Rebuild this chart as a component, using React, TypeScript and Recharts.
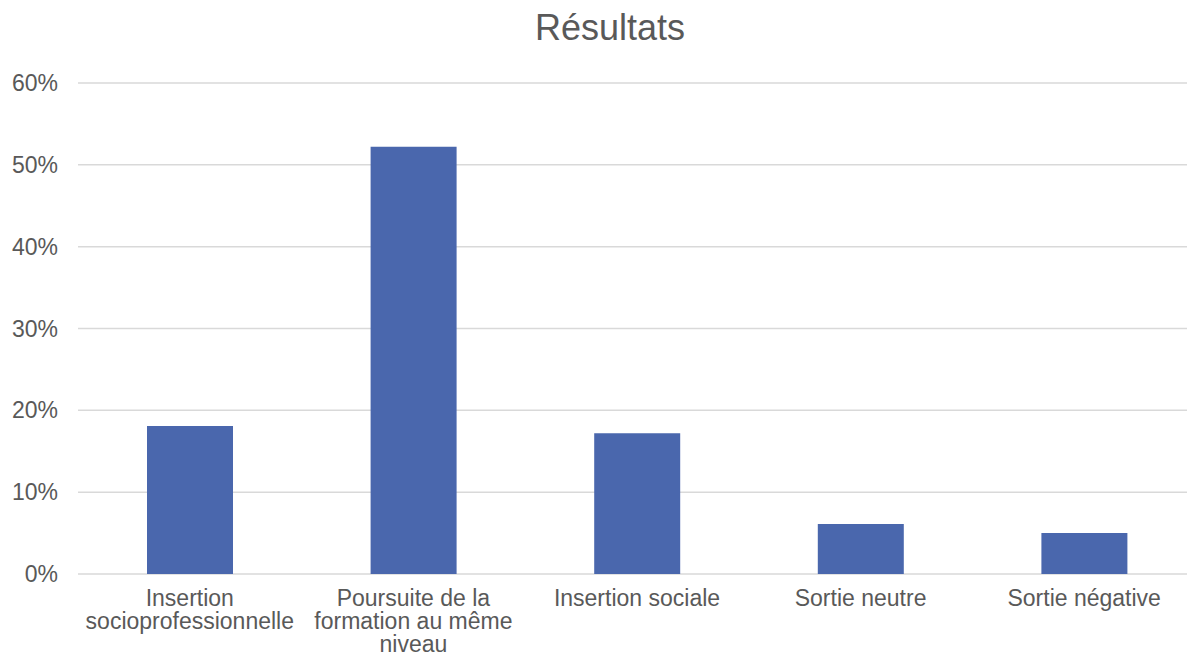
import { BarChart, Bar, XAxis, YAxis, CartesianGrid } from 'recharts';

const categories = [
  'Insertion socioprofessionnelle',
  'Poursuite de la formation au même niveau',
  'Insertion sociale',
  'Sortie neutre',
  'Sortie négative',
];
const shares = [18.1, 52.2, 17.2, 6.1, 5.0];
const yTicks = [0, 10, 20, 30, 40, 50, 60];
const edgeTicks = [0, 1, 2, 3, 4, 5];

const data = categories.map((name, i) => ({ name, value: shares[i] }));

const FONT = '"Liberation Sans", Arial, Helvetica, sans-serif';
const GREY = '#595959';
const LINE = '#d9d9d9';
const TICK_SIZE = 23;

// word wrap using canvas measurement, recharts' Text measured at the wrong size
function wrap(label: string, maxWidth: number): string[] {
  const ctx = document.createElement('canvas').getContext('2d');
  if (!ctx) return [label];
  ctx.font = `${TICK_SIZE}px ${FONT}`;
  const lines: string[] = [];
  let cur = '';
  for (const w of label.split(' ')) {
    const next = cur ? `${cur} ${w}` : w;
    if (cur && ctx.measureText(next).width > maxWidth) {
      lines.push(cur);
      cur = w;
    } else {
      cur = next;
    }
  }
  if (cur) lines.push(cur);
  return lines;
}

function CategoryTick(props: any) {
  const { x, y, payload } = props;
  const lines = wrap(payload.value, 224);
  return (
    <text
      x={x}
      y={y}
      textAnchor='middle'
      fill={GREY}
      style={{ fontSize: TICK_SIZE, fontFamily: FONT }}
    >
      {lines.map((l, i) => (
        <tspan key={i} x={x} y={y + 24 + i * 23}>
          {l}
        </tspan>
      ))}
    </text>
  );
}

export default function App() {
  return (
    <div
      style={{
        position: 'absolute',
        left: 0,
        top: 0,
        width: 1187,
        height: 654,
        overflow: 'hidden',
        background: '#fff',
        fontFamily: FONT,
      }}
    >
      <div
        style={{
          position: 'absolute',
          top: 7,
          left: 410,
          width: 400,
          textAlign: 'center',
          fontSize: 36,
          color: GREY,
        }}
      >
        Résultats
      </div>
      <BarChart
        width={1196}
        height={654}
        data={data}
        margin={{ top: 83, right: 0, bottom: 0, left: 0 }}
        barSize={86}
      >
        <CartesianGrid vertical={false} stroke={LINE} strokeWidth={1.5} />
        <XAxis
          xAxisId='edges'
          type='number'
          domain={[0, 5]}
          ticks={edgeTicks}
          allowDataOverflow
          height={0}
          tick={false}
          tickSize={7}
          axisLine={{ stroke: LINE, strokeWidth: 1.5 }}
          tickLine={{ stroke: LINE, strokeWidth: 1.5 }}
        />
        <XAxis
          dataKey='name'
          height={80}
          interval={0}
          axisLine={false}
          tickLine={false}
          tick={<CategoryTick />}
        />
        <YAxis
          width={78}
          domain={[0, 60]}
          ticks={yTicks}
          axisLine={false}
          tickLine={false}
          tickSize={0}
          tickMargin={20}
          tickFormatter={(v: number) => `${v}%`}
          tick={{ fill: GREY, fontSize: 23, fontFamily: FONT }}
        />
        <Bar dataKey='value' fill='#4A67AD' isAnimationActive={false} />
      </BarChart>
    </div>
  );
}
